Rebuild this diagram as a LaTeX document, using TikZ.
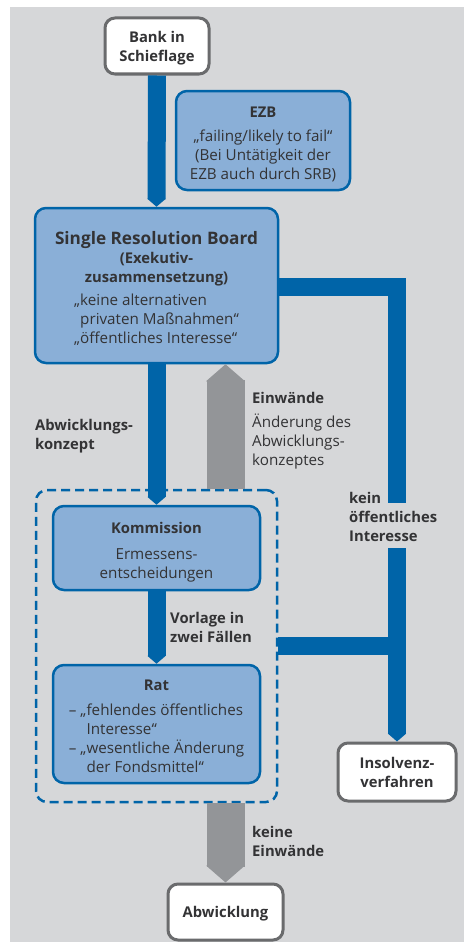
\documentclass[tikz,border=0pt]{standalone}
\usepackage{fontspec}
\setmainfont{Open Sans}
\usetikzlibrary{arrows.meta,calc}
\definecolor{bg}{HTML}{D6D7D9}
\definecolor{bblue}{HTML}{0064A8}
\definecolor{bfill}{HTML}{8AAFD7}
\definecolor{garrow}{HTML}{939598}
\definecolor{gborder}{HTML}{6A6B6D}
\definecolor{txt}{HTML}{333335}
\newcommand{\bodyfont}{\fontsize{15.2}{19}\selectfont}
\newcommand{\headfont}{\bfseries\fontsize{14.8}{19}\selectfont}
\newcommand{\tp}[1]{\rule{0pt}{#1pt}}
\begin{document}
\begin{tikzpicture}[x=1pt,y=-1pt,
  bluebox/.style={draw=bblue,fill=bfill,line width=2.5pt,rounded corners=11pt,inner sep=0pt,align=center,text=txt,font=\bodyfont},
  whitebox/.style={draw=gborder,fill=white,line width=3pt,rounded corners=10pt,inner sep=0pt,align=center,text=txt,font=\headfont},
  dashbox/.style={draw=bblue,line width=2.5pt,rounded corners=11pt,dash pattern=on 9pt off 5pt,inner sep=0pt},
  bluebar/.style={draw=bblue,line width=18pt},
  bluearrow/.style={bluebar,-{Triangle[length=8pt,width=18pt]}},
  greyarrow/.style={draw=garrow,line width=38pt,-{Triangle[length=17pt,width=38pt]}},
  lbl/.style={text=txt,align=left,inner sep=0pt,anchor=west},
]
\useasboundingbox (0,0) rectangle (464,942);
\fill[bg] (10,7) rectangle (464,942);

\node[dashbox,minimum width=241pt,minimum height=312pt] (dash) at (156.5,646) {};

\node[whitebox,minimum width=104pt,minimum height=56pt] (bank) at (157,46) {\tp{15}Bank in\\Schieflage};
\node[bluebox,minimum width=174pt,minimum height=99pt] (ezb) at (263,140.5)
  {{\headfont\tp{19}EZB}\\[5pt]„failing/likely to fail“\\(Bei Untätigkeit der\\EZB auch durch SRB)};
\node[bluebox,minimum width=243pt,minimum height=155pt] (srb) at (156.5,285.5)
  {{\bfseries\fontsize{17.2}{19}\selectfont\tp{23}Single Resolution Board}\\
   {\headfont (Exekutiv-}\\{\headfont zusammensetzung)}\\[5pt]
   \begin{tabular}{@{}l@{}}„keine alternativen\\\hphantom{„}privaten Maßnahmen“\\„öffentliches Interesse“\end{tabular}};
\node[bluebox,minimum width=207pt,minimum height=84pt] (komm) at (156.5,548)
  {{\headfont\tp{19}Kommission}\\[7pt]Ermessens-\\entscheidungen};
\node[bluebox,minimum width=207pt,minimum height=118pt] (rat) at (156.5,724)
  {{\headfont\tp{21}Rat}\\[10pt]
   \begin{tabular}{@{}l@{}}– „fehlendes öffentliches\\\hphantom{– „}Interesse“\\– „wesentliche Änderung\\\hphantom{– „}der Fondsmittel“\end{tabular}};
\node[whitebox,minimum width=118pt,minimum height=58pt] (insolv) at (397,772) {Insolvenz-\\verfahren};
\node[whitebox,minimum width=115pt,minimum height=56pt] (abw) at (225.5,912) {\tp{15}Abwicklung};

\node[lbl,font=\headfont] (lkonzept) at (35,436) {Abwicklungs-\\konzept};
\node[lbl,font=\bodyfont] (leinw) at (252,431) {{\headfont Einwände}\\[5pt]Änderung des\\Abwicklungs-\\konzeptes};
\node[lbl,font=\headfont] (lvorlage) at (170,627) {Vorlage in\\zwei Fällen};
\node[lbl,font=\headfont] (lkein) at (349,517) {kein\\öffentliches\\Interesse};
\node[lbl,font=\headfont] (lkeine) at (252,841) {keine\\Einwände};

\coordinate (gapTop) at (397,503);
\coordinate (gapBot) at (397,548);

\draw[bluearrow] (bank.south) -- (srb.north);
\draw[bluearrow] (srb.south) -- (komm.north);
\draw[bluearrow] (komm.south) -- (rat.north);
\draw[greyarrow] (abw.north |- dash.north) -- (abw.north |- srb.south);
\draw[greyarrow] (abw.north |- dash.south) -- (abw.north);
\draw[bluebar] ($(srb.east)+(0,1.5)$) -| (gapTop);
\draw[bluearrow] (gapBot) -- (insolv.north);
\draw[bluebar] (dash.east) -- (dash.east -| insolv.north);
\end{tikzpicture}
\end{document}
